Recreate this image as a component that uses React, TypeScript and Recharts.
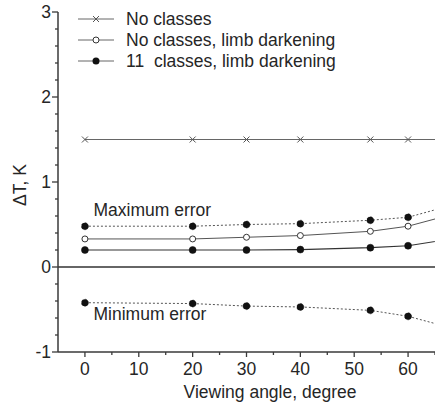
import React from 'react';
import { LineChart, Line, XAxis, YAxis, ReferenceLine, ReferenceDot } from 'recharts';

const angles = [0, 20, 30, 40, 53, 60, 70];
const noClasses = [1.5, 1.5, 1.5, 1.5, 1.5, 1.5, 1.5];
const noClassesLimb = [0.33, 0.33, 0.35, 0.37, 0.42, 0.48, 0.65];
const classes11Limb = [0.2, 0.2, 0.2, 0.205, 0.227, 0.25, 0.35];
const maxError = [0.48, 0.48, 0.5, 0.51, 0.55, 0.585, 0.76];
const minError = [-0.42, -0.43, -0.46, -0.47, -0.51, -0.58, -0.75];

const xTicks = [0, 5, 10, 15, 20, 25, 30, 35, 40, 45, 50, 55, 60, 65];
const xLabelTicks = [0, 10, 20, 30, 40, 50, 60];
const yTicks = [-1, -0.8, -0.6, -0.4, -0.2, 0, 0.2, 0.4, 0.6, 0.8, 1, 1.2, 1.4, 1.6, 1.8, 2, 2.2, 2.4, 2.6, 2.8, 3];
const yLabelTicks = [-1, 0, 1, 2, 3];

const seriesNames = ['No classes', 'No classes, limb darkening', '11  classes, limb darkening'];

const data = angles.map((a, i) => ({
  angle: a,
  noClasses: noClasses[i],
  noClassesLimb: noClassesLimb[i],
  classes11Limb: classes11Limb[i],
  maxError: maxError[i],
  minError: minError[i],
}));

const FONT = '"Liberation Sans", Arial, sans-serif';
const TXT = '#262626';
const AX = '#3a3a3a';

const XTick = (props: any) => {
  const { x, y, payload } = props;
  const v = payload.value;
  const major = xLabelTicks.includes(v);
  return (
    <g>
      <line x1={x} x2={x} y1={y} y2={y + (major ? 5 : 3)} stroke={AX} strokeWidth={1.3} />
      {major && (
        <text x={x} y={y + 23} textAnchor="middle" fontSize={17.5} fontFamily={FONT} fill={TXT}>
          {v}
        </text>
      )}
    </g>
  );
};

const YTick = (props: any) => {
  const { x, y, payload } = props;
  const v = payload.value;
  const major = yLabelTicks.some((t) => Math.abs(t - v) < 1e-6);
  return (
    <g>
      <line x1={x} x2={x - (major ? 6 : 3)} y1={y} y2={y} stroke={AX} strokeWidth={1.3} />
      {major && (
        <text x={x - 7} y={y + 6} textAnchor="end" fontSize={17.5} fontFamily={FONT} fill={TXT}>
          {Math.round(v)}
        </text>
      )}
    </g>
  );
};

const CrossDot = (props: any) => {
  const { cx, cy } = props;
  if (cx == null || cy == null) return null;
  const s = 3;
  return (
    <g>
      <line x1={cx - s} y1={cy - s} x2={cx + s} y2={cy + s} stroke="#555" strokeWidth={1} />
      <line x1={cx - s} y1={cy + s} x2={cx + s} y2={cy - s} stroke="#555" strokeWidth={1} />
    </g>
  );
};

const LegendBox = () => {
  const rows = [
    { name: seriesNames[0], kind: 'x' },
    { name: seriesNames[1], kind: 'open' },
    { name: seriesNames[2], kind: 'filled' },
  ];
  return (
    <svg width={320} height={90} style={{ display: 'block', position: 'absolute', left: 78, top: 0 }}>
      {rows.map((r, i) => {
        const cy = 19 + i * 21;
        return (
          <g key={i}>
            <line x1={0} x2={36} y1={cy} y2={cy} stroke="#666" strokeWidth={1} />
            {r.kind === 'x' && <CrossDot cx={18} cy={cy} />}
            {r.kind === 'open' && <circle cx={18} cy={cy} r={3} fill="#fff" stroke="#333" strokeWidth={1} />}
            {r.kind === 'filled' && <circle cx={18} cy={cy} r={3.5} fill="#111" />}
            <text x={48} y={cy + 6} fontSize={17.5} fontFamily={FONT} fill={TXT} style={{ whiteSpace: 'pre' }}>
              {r.name}
            </text>
          </g>
        );
      })}
    </svg>
  );
};

const Annot = (text: string) => (props: any) => {
  const { viewBox } = props;
  if (!viewBox) return null;
  return (
    <text x={viewBox.x} y={viewBox.y} fontSize={17.5} fontFamily={FONT} fill={TXT}>
      {text}
    </text>
  );
};

const XLabel = (props: any) => {
  const { viewBox } = props;
  return (
    <text x={270} y={viewBox.y + 46} textAnchor="middle" fontSize={17.5} fontFamily={FONT} fill={TXT}>
      Viewing angle, degree
    </text>
  );
};

const YLabel = () => {
  return (
    <text x={26} y={185} transform="rotate(-90 26 185)" textAnchor="middle" fontSize={17.5} fontFamily={FONT} fill={TXT}>
      ΔT, K
    </text>
  );
};

export default function App() {
  return (
    <div style={{ position: 'absolute', left: 0, top: 0, width: 435, height: 408, background: '#fff' }}>
      <LineChart width={435} height={408} data={data} margin={{ top: 12, right: 0, left: 0, bottom: 0 }}>
        <XAxis
          dataKey="angle"
          type="number"
          domain={[-5, 65]}
          allowDataOverflow
          ticks={xTicks}
          interval={0}
          tick={<XTick />}
          tickLine={false}
          tickSize={0}
          tickMargin={0}
          height={56}
          axisLine={{ stroke: AX, strokeWidth: 1.5 }}
          label={<XLabel />}
        />
        <YAxis
          type="number"
          domain={[-1, 3]}
          allowDataOverflow
          ticks={yTicks}
          interval={0}
          tick={<YTick />}
          tickLine={false}
          tickSize={0}
          tickMargin={0}
          width={58}
          axisLine={{ stroke: AX, strokeWidth: 1.5 }}
          label={<YLabel />}
        />
        <ReferenceLine y={0} stroke="#333" strokeWidth={1.5} />
        <Line dataKey="noClasses" stroke="#666" strokeWidth={1} dot={<CrossDot />} isAnimationActive={false} />
        <Line dataKey="noClassesLimb" stroke="#555" strokeWidth={1} dot={{ r: 3, fill: '#fff', stroke: '#333', strokeWidth: 1 }} isAnimationActive={false} />
        <Line dataKey="classes11Limb" stroke="#333" strokeWidth={1.2} dot={{ r: 3.5, fill: '#111', stroke: '#111', strokeWidth: 0.5 }} isAnimationActive={false} />
        <Line dataKey="maxError" stroke="#555" strokeWidth={1} strokeDasharray="2 2" dot={{ r: 3.5, fill: '#111', stroke: '#111', strokeWidth: 0.5 }} isAnimationActive={false} />
        <Line dataKey="minError" stroke="#555" strokeWidth={1} strokeDasharray="2 2" dot={{ r: 3.5, fill: '#111', stroke: '#111', strokeWidth: 0.5 }} isAnimationActive={false} />
        <ReferenceDot x={1.6} y={0.6} r={0} fill="none" stroke="none" label={Annot('Maximum error')} />
        <ReferenceDot x={1.6} y={-0.625} r={0} fill="none" stroke="none" label={Annot('Minimum error')} />
      </LineChart>
      <LegendBox />
    </div>
  );
}
